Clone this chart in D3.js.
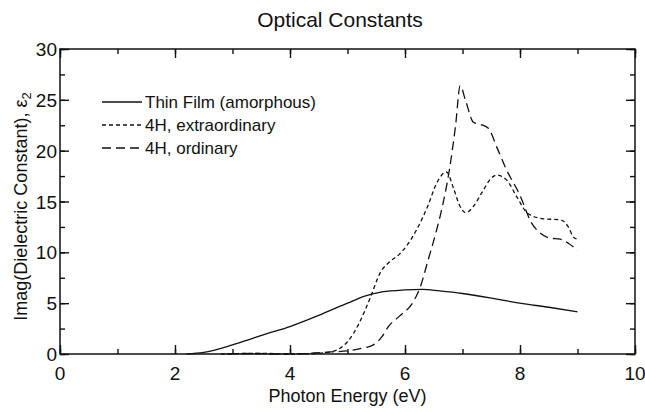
<!DOCTYPE html>
<html>
<head>
<meta charset="utf-8">
<script src="https://cdn.jsdelivr.net/npm/d3@7"></script>
<style>
  body { margin: 0; background: #fff; }
  text { font-family: "Liberation Sans", Arial, sans-serif; fill: #111; }
</style>
</head>
<body>
<svg id="chart" width="645" height="412"></svg>
<script>
// data (photon energy in eV, eps2)
const thinFilm = [
  [2.2, 0], [2.5, 0.15], [3.0, 0.9], [3.3, 1.45], [3.6, 2.0], [4.0, 2.7], [4.5, 3.8],
  [5.0, 5.0], [5.3, 5.7], [5.6, 6.1], [6.0, 6.3], [6.3, 6.35], [6.6, 6.2],
  [7.0, 5.95], [7.6, 5.4], [8.0, 5.0], [8.5, 4.6], [9.0, 4.15]
];
const extraordinary = [
  [2.8, 0], [3.2, 0.05], [3.6, 0.05], [4.0, 0], [4.4, 0.05], [4.7, 0.2], [4.85, 0.5],
  [5.0, 1.2], [5.2, 3.0], [5.4, 5.6], [5.57, 8.0], [5.74, 9.1], [5.9, 9.8],
  [6.05, 10.8], [6.2, 12.2], [6.4, 14.6], [6.55, 16.8], [6.72, 17.9], [6.85, 16.2],
  [6.95, 14.6], [7.06, 13.9], [7.2, 14.6], [7.35, 16.0], [7.5, 17.3], [7.59, 17.6],
  [7.77, 17.1], [7.94, 15.5], [8.14, 13.8], [8.41, 13.3], [8.7, 13.2], [8.84, 12.5],
  [8.93, 11.5], [9.0, 11.3]
];
const ordinary = [
  [2.9, 0], [3.4, 0.05], [3.8, 0], [4.3, 0.05], [4.7, 0.2], [5.0, 0.3], [5.2, 0.5],
  [5.45, 0.9], [5.6, 1.7], [5.71, 2.7], [5.9, 3.7], [6.14, 5.1], [6.26, 6.5],
  [6.4, 9.2], [6.55, 12.2], [6.65, 14.5], [6.78, 18.4], [6.88, 22.5], [6.96, 26.4],
  [7.05, 25.0], [7.19, 22.8], [7.3, 22.6], [7.45, 22.2], [7.6, 20.3], [7.75, 18.3],
  [8.0, 15.6], [8.2, 12.9], [8.35, 11.9], [8.52, 11.4], [8.7, 11.3], [8.84, 10.9],
  [9.0, 10.2]
];
const seriesNames = ["Thin Film (amorphous)", "4H, extraordinary", "4H, ordinary"];
const xTicks = [0, 2, 4, 6, 8, 10];
const yTicks = [0, 5, 10, 15, 20, 25, 30];

const svg = d3.select("#chart");
const m = { left: 60, right: 10, top: 49, bottom: 58 };
const W = 645, H = 412;

const x = d3.scaleLinear().domain([0, 10]).range([m.left, W - m.right]);
const y = d3.scaleLinear().domain([0, 30]).range([H - m.bottom, m.top]);

// ticks pointing inwards on all four sides
const minorX = d3.range(0, 11, 1), minorY = d3.range(0, 30.1, 2.5);
function tickAxis(axis, minorVals, majorVals, tr) {
  const g = svg.append("g").attr("transform", tr);
  g.call(axis.tickValues(minorVals).tickSize(-5).tickFormat(""));
  g.select(".domain").remove();
  const g2 = svg.append("g").attr("transform", tr);
  g2.call(axis.tickValues(majorVals).tickSize(-9).tickFormat(""));
  g2.select(".domain").remove();
  svg.selectAll("g line").attr("stroke", "#111").attr("stroke-width", 1.4);
}
tickAxis(d3.axisBottom(x), minorX, xTicks, `translate(0,${y(0)})`);
tickAxis(d3.axisTop(x), minorX, xTicks, `translate(0,${y(30)})`);
tickAxis(d3.axisLeft(y), minorY, yTicks, `translate(${x(0)},0)`);
tickAxis(d3.axisRight(y), minorY, yTicks, `translate(${x(10)},0)`);

svg.append("rect")
  .attr("x", x(0)).attr("y", y(30))
  .attr("width", x(10) - x(0)).attr("height", y(0) - y(30))
  .attr("fill", "none").attr("stroke", "#111").attr("stroke-width", 1.5);

// tick labels
svg.append("g").selectAll("text").data(xTicks).join("text")
  .attr("x", d => x(d)).attr("y", y(0) + 26)
  .attr("text-anchor", "middle").attr("font-size", 19).text(d => d);
svg.append("g").selectAll("text").data(yTicks).join("text")
  .attr("x", x(0) - 3).attr("y", d => y(d) + 7)
  .attr("text-anchor", "end").attr("font-size", 19).text(d => d);

// titles
svg.append("text").attr("x", 340).attr("y", 27).attr("text-anchor", "middle")
  .attr("font-size", 21).text("Optical Constants");
svg.append("text").attr("x", (x(0) + x(10)) / 2).attr("y", 402).attr("text-anchor", "middle")
  .attr("font-size", 18).text("Photon Energy (eV)");
const yl = svg.append("text")
  .attr("transform", `translate(27,${(y(0) + y(30)) / 2 + 5}) rotate(-90)`)
  .attr("text-anchor", "middle").attr("font-size", 18);
yl.append("tspan").text("Imag(Dielectric Constant),  \u03b5");
yl.append("tspan").attr("font-size", 13).attr("dy", 4).text("2");

// curves
const line = d3.line().x(d => x(d[0])).y(d => y(d[1])).curve(d3.curveMonotoneX);
const dashes = [null, "4,3", "9,5"];
[thinFilm, extraordinary, ordinary].forEach((s, i) => {
  svg.append("path").datum(s).attr("d", line)
    .attr("fill", "none").attr("stroke", "#111").attr("stroke-width", 1.3)
    .attr("stroke-dasharray", dashes[i]);
});

// legend
const lg = svg.append("g");
seriesNames.forEach((name, i) => {
  const ly = 102 + i * 23;
  lg.append("line").attr("x1", 102).attr("x2", 142).attr("y1", ly).attr("y2", ly)
    .attr("stroke", "#111").attr("stroke-width", 1.3).attr("stroke-dasharray", dashes[i]);
  lg.append("text").attr("x", 145).attr("y", ly + 6).attr("font-size", 17).text(name);
});
</script>
</body>
</html>
